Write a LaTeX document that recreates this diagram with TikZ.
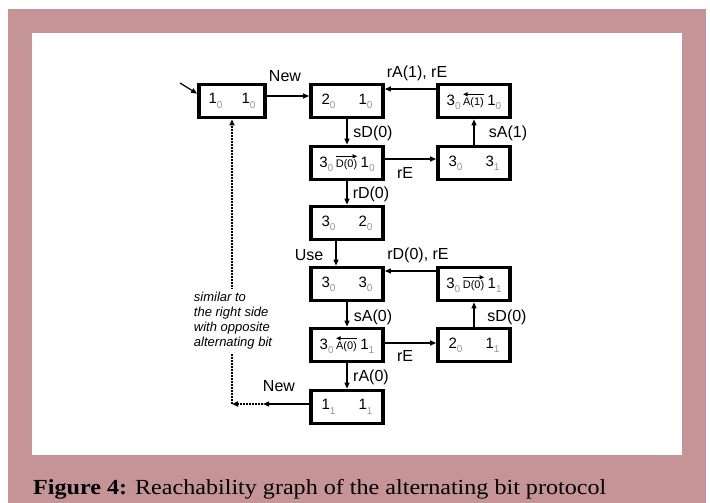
\documentclass[tikz,border=0pt]{standalone}
\usepackage{fontspec}
\usepackage{graphicx}
\setmainfont{Liberation Serif}
\newfontfamily\arial{Liberation Sans}
\usetikzlibrary{arrows.meta}
\definecolor{mauve}{RGB}{196,148,151}
\definecolor{subgray}{RGB}{150,150,150}
\newcommand\ix[2]{#1\raisebox{-0.55ex}{\fontsize{10}{10}\selectfont\color{subgray}#2}}
\tikzset{
  msgnode/.style={draw=none, fill=none, minimum width=0pt, minimum height=0pt, inner sep=0pt, outer sep=0pt,
    anchor=center, font={\arial\fontsize{11}{11}\selectfont}},
  msgarr/.style={draw=black, line width=1pt, -{Triangle[length=4.5pt,width=4pt]}},
}
\newcommand\msgR[1]{\tikz[baseline=(m.base)]{\node[msgnode](m){#1};
  \draw[msgarr]([yshift=3pt]m.north west)--([yshift=3pt]m.north east);}}
\newcommand\msgL[1]{\tikz[baseline=(m.base)]{\node[msgnode](m){#1};
  \draw[msgarr]([yshift=3pt]m.north east)--([yshift=3pt]m.north west);}}
\tikzset{
  sbox/.style={draw, line width=3.8pt, minimum width=72pt, minimum height=33pt, inner sep=0pt,
    font={\arial\fontsize{15}{18}\selectfont}},
  arr/.style={line width=1.2pt, -{Triangle[length=6pt,width=5pt]}},
  dotline/.style={line width=1.6pt, dash pattern=on 1.6pt off 1.4pt},
  lbl/.style={font={\arial\fontsize{16}{18}\selectfont}, inner sep=0pt},
}
\begin{document}
\begin{tikzpicture}[x=1pt,y=-1pt]
\useasboundingbox (0,0) rectangle (710,503);
\fill[white] (0,0) rectangle (710,503);
\fill[mauve] (8,9) rectangle (706,503);
\fill[white] (32,33) rectangle (682,455);

\node[sbox, minimum width=66pt] (A) at (232,101) {\ix{1}{0}\hspace{19pt}\ix{1}{0}};
\node[sbox] (B) at (347,101) {\ix{2}{0}\hspace{23pt}\ix{1}{0}};
\node[sbox] (C) at (474,101) {\ix{3}{0}\hspace{2pt}\msgL{A(1)}\hspace{3pt}\ix{1}{0}};
\node[sbox] (D) at (347,163) {\ix{3}{0}\hspace{2pt}\msgR{D(0)}\hspace{3pt}\ix{1}{0}};
\node[sbox] (E) at (474,163) {\ix{3}{0}\hspace{23pt}\ix{3}{1}};
\node[sbox] (F) at (347,223) {\ix{3}{0}\hspace{23pt}\ix{2}{0}};
\node[sbox] (G) at (347,284) {\ix{3}{0}\hspace{23pt}\ix{3}{0}};
\node[sbox] (H) at (474,284) {\ix{3}{0}\hspace{2pt}\msgR{D(0)}\hspace{3pt}\ix{1}{1}};
\node[sbox] (I) at (347,345) {\ix{3}{0}\hspace{2pt}\msgL{A(0)}\hspace{3pt}\ix{1}{1}};
\node[sbox] (J) at (474,345) {\ix{2}{0}\hspace{23pt}\ix{1}{1}};
\node[sbox] (K) at (347,407) {\ix{1}{1}\hspace{23pt}\ix{1}{1}};

\coordinate (init) at (180,83);
\coordinate (kl) at (263,404);
\coordinate (corner) at (232,404);

\draw[arr] (init) -- ([yshift=-11pt]A.north west);
\draw[arr] ([yshift=5pt]A.east) -- ([yshift=5pt]B.west);
\draw[arr] ([yshift=12pt]C.west) -- ([yshift=12pt]B.east);
\draw[arr] (B.south) -- (D.north);
\draw[arr] ([yshift=4pt]D.east) -- ([yshift=4pt]E.west);
\draw[arr] (E.north) -- (C.south);
\draw[arr] (D.south) -- (F.north);
\draw[arr] ([xshift=-11pt]F.south) -- ([xshift=-11pt]G.north);
\draw[arr] ([yshift=13pt]H.west) -- ([yshift=13pt]G.east);
\draw[arr] (J.north) -- (H.south);
\draw[arr] (G.south) -- (I.north);
\draw[arr] ([yshift=2pt]I.east) -- ([yshift=2pt]J.west);
\draw[arr] (I.south) -- (K.north);
\draw[arr] ([yshift=3pt]K.west) -- (kl);
\draw[dotline, -{Triangle[length=6pt,width=5pt]}] (kl) -- (corner);
\draw[dotline, -{Triangle[length=6pt,width=5pt]}] (corner) -- (A.south);

\node[fill=white, inner sep=3pt, align=left, font={\arial\itshape\fontsize{13}{15}\selectfont}] (note) at (233,321)
  {similar to\\the right side\\with opposite\\alternating bit};

\node[lbl] (l1) at (285,76) {New};
\node[lbl] (l2) at (417,73) {rA(1), rE};
\node[lbl] (l3) at (373,133) {sD(0)};
\node[lbl] (l4) at (508,133) {sA(1)};
\node[lbl] (l5) at (405,173) {rE};
\node[lbl] (l6) at (371,194) {rD(0)};
\node[lbl] (l7) at (309,255) {Use};
\node[lbl] (l8) at (418,255) {rD(0), rE};
\node[lbl] (l9) at (373,317) {sA(0)};
\node[lbl] (l10) at (507,317) {sD(0)};
\node[lbl] (l11) at (405,356) {rE};
\node[lbl] (l12) at (371,377) {rA(0)};
\node[lbl] (l13) at (279,386) {New};

\node[anchor=base west, inner sep=0pt] (cap) at (33,494)
  {\resizebox{573pt}{\height}{\fontsize{21.5}{24}\selectfont\textbf{Figure 4:} Reachability graph of the alternating bit protocol}};
\end{tikzpicture}
\end{document}
